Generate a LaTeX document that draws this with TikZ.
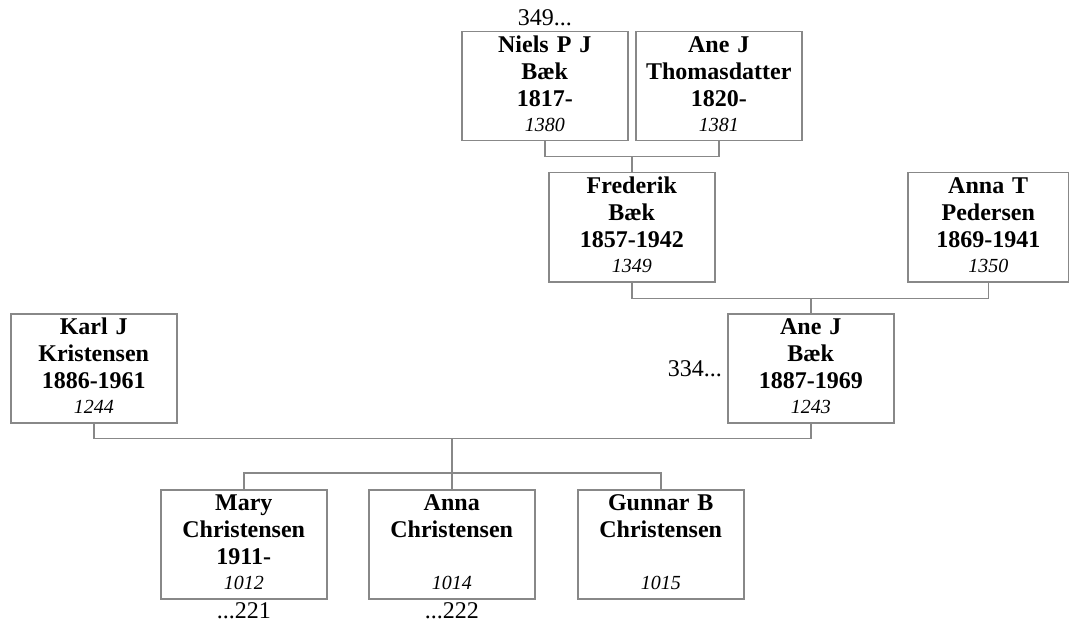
\documentclass[tikz,border=0pt]{standalone}
\usepackage{fontspec}
\setmainfont{Liberation Serif}
\usetikzlibrary{calc}
\definecolor{treeline}{RGB}{136,136,136}
\newcommand{\treenum}[1]{{\fontsize{20}{25}\selectfont\mdseries\itshape #1}}
\tikzset{
  tree box/.style={
    draw=treeline,
    line width=1.5pt,
    anchor=north west,
    inner sep=0pt,
    text width=166pt,
    align=center,
    text height=21pt,
    text depth=88pt,
    font=\fontsize{24}{27}\selectfont\bfseries,
  },
  tree line/.style={
    draw=treeline,
    line width=1.5pt,
  },
  tree note/.style={
    inner sep=0pt,
    font=\fontsize{24}{27}\selectfont,
  },
}
\begin{document}
\begin{tikzpicture}[x=1pt,y=-1pt]
  \useasboundingbox (0,0) rectangle (1069,623);

  \node[tree box] (n1380) at (461,31) {Niels P J\\Bæk\\1817-\\[-2pt]\treenum{1380}};
  \node[tree box] (n1381) at (635,31) {Ane J\\Thomasdatter\\1820-\\[-2pt]\treenum{1381}};
  \node[tree box] (n1349) at (548,172) {Frederik\\Bæk\\1857-1942\\[-2pt]\treenum{1349}};
  \node[tree box, text width=161pt] (n1350) at (907,172) {Anna T\\Pedersen\\1869-1941\\[-2pt]\treenum{1350}};
  \node[tree box] (n1244) at (10,313) {Karl J\\Kristensen\\1886-1961\\[-2pt]\treenum{1244}};
  \node[tree box] (n1243) at (727,313) {Ane J\\Bæk\\1887-1969\\[-2pt]\treenum{1243}};
  \node[tree box] (n1012) at (160,489) {Mary\\Christensen\\1911-\\[-2pt]\treenum{1012}};
  \node[tree box] (n1014) at (368,489) {Anna\\Christensen\\[25pt]\treenum{1014}};
  \node[tree box] (n1015) at (577,489) {Gunnar B\\Christensen\\[25pt]\treenum{1015}};

  \node[tree note, anchor=base] (up1380) at ($(n1380.north)+(0,-5)$) {349...};
  \node[tree note, anchor=east] (up1243) at ($(n1243.west)+(-5,0)$) {334...};
  \node[tree note, anchor=base] (dn1012) at ($(n1012.south)+(0,19)$) {...221};
  \node[tree note, anchor=base] (dn1014) at ($(n1014.south)+(0,19)$) {...222};

  % parent bars
  \coordinate (bar1) at ($(n1380.south)+(0,15)$);
  \coordinate (bar2) at ($(n1349.south)+(0,16)$);
  \coordinate (bar3) at ($(n1244.south)+(0,15)$);
  \coordinate (bar4) at ($(n1012.north)+(0,-16)$);

  \draw[tree line] (n1380.south) -- (bar1) -| (n1381.south);
  \draw[tree line] (n1349.north) -- (n1349.north |- bar1);
  \draw[tree line] (n1349.south) -- (bar2) -| (n1350.south);
  \draw[tree line] (n1243.north) -- (n1243.north |- bar2);
  \draw[tree line] (n1244.south) -- (bar3) -| (n1243.south);
  \draw[tree line] (n1014.north) -- (n1014.north |- bar3);
  \draw[tree line] (n1012.north) -- (bar4) -| (n1015.north);
\end{tikzpicture}
\end{document}
